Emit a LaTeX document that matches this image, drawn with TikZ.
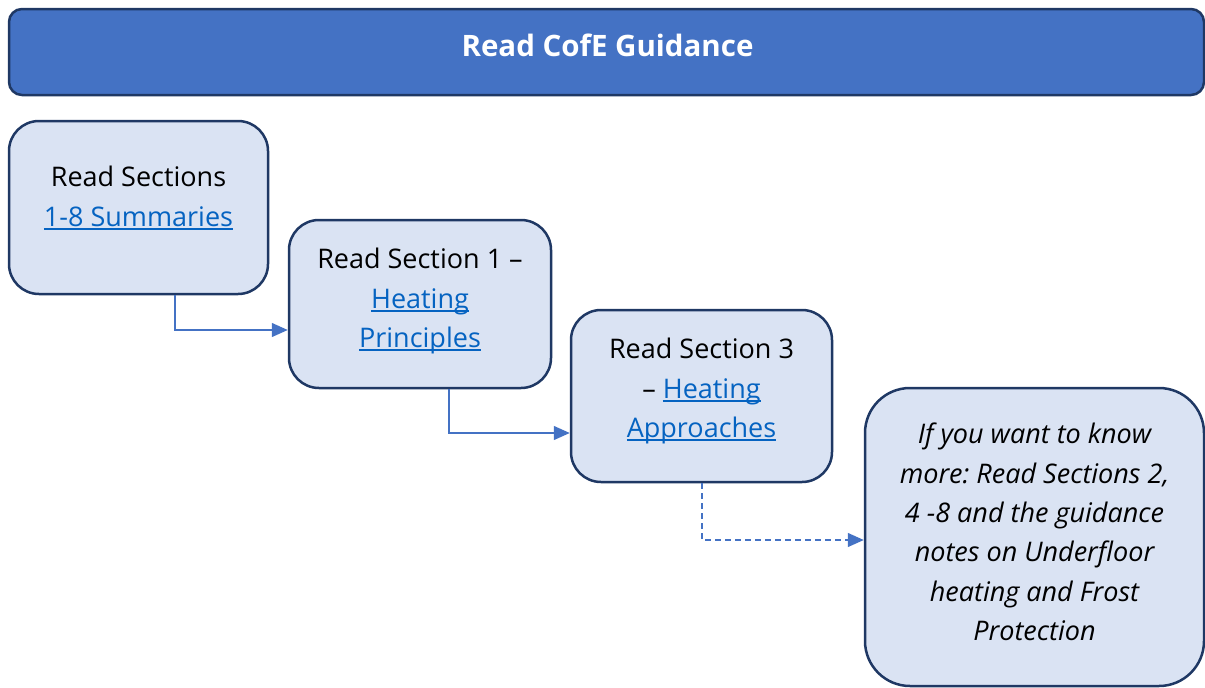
\documentclass[tikz,border=0pt]{standalone}
\usepackage{fontspec}
\setmainfont{Open Sans}
\usetikzlibrary{arrows.meta}
\frenchspacing
\definecolor{titlefill}{HTML}{4472C4}
\definecolor{boxborder}{HTML}{1F3864}
\definecolor{boxfill}{HTML}{DAE3F3}
\definecolor{conn}{HTML}{4472C4}
\definecolor{linkc}{HTML}{0563C1}
\newcommand{\lnk}[1]{{\color{linkc}\setbox0\hbox{#1}\rlap{\rule[-3.6pt]{\wd0}{1.7pt}}\box0}}
\tikzset{
  stepbox/.style={draw=boxborder, line width=2.5pt, fill=boxfill, rounded corners=30pt, inner sep=0pt},
  txt/.style={align=center, inner sep=0pt, font=\fontsize{27}{39.3}\selectfont},
  conna/.style={draw=conn, line width=1.4pt, -{Triangle[length=16pt,width=14pt]}},
}
\begin{document}
\begin{tikzpicture}[x=1pt,y=-1pt]
\useasboundingbox (0,0) rectangle (1205,688);
\node[draw=boxborder, line width=2.5pt, fill=titlefill, rounded corners=13pt, minimum width=1195pt, minimum height=86pt, inner sep=0pt] (title) at (606.5,52) {};
\node[inner sep=0pt, text=white, font=\fontsize{29.5}{33}\selectfont\bfseries] (t0) at (607.5,45) {Read CofE Guidance};

\node[stepbox, minimum width=259pt, minimum height=173pt] (b1) at (138.5,207.5) {};
\node[stepbox, minimum width=262pt, minimum height=168pt] (b2) at (420,304) {};
\node[stepbox, minimum width=261pt, minimum height=172pt] (b3) at (701.5,396) {};
\node[stepbox, rounded corners=45pt, minimum width=339pt, minimum height=298pt] (b4) at (1034.5,537) {};

\node[txt] (t1) at (138.5,198) {Read Sections\\\lnk{1-8 Summaries}};
\node[txt] (t2) at (420,301) {Read Section 1 –\\\lnk{Heating}\\\lnk{Principles}};
\node[txt] (t3) at (701.5,391) {Read Section 3\\– \lnk{Heating}\\\lnk{Approaches}};
\node[txt, font=\fontsize{27}{39.3}\selectfont\itshape] (t4) at (1034.5,532) {If you want to know\\more: Read Sections 2,\\4 -8 and the guidance\\notes on Underfloor\\heating and Frost\\Protection};

\draw[conna] ([xshift=36.5pt]b1.south) |- ([yshift=-26pt]b2.west);
\draw[conna] ([xshift=29pt]b2.south) |- ([yshift=-37pt]b3.west);
\draw[conna, dash pattern=on 6pt off 4pt] ([xshift=0.5pt]b3.south) |- ([yshift=-3pt]b4.west);
\end{tikzpicture}
\end{document}
